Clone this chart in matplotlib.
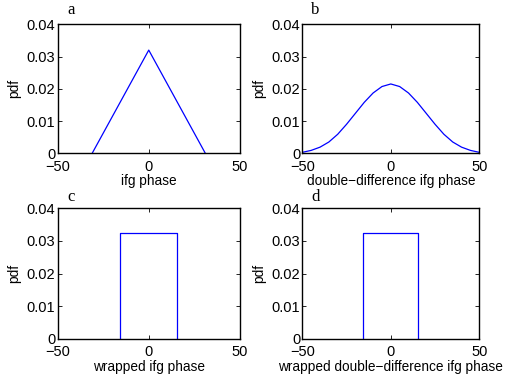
import matplotlib
matplotlib.use("Agg")
import matplotlib.pyplot as plt

# Triangular pdf of the interferogram phase
ifg_x = [-31, 0, 31]
ifg_pdf = [0.0, 0.032, 0.0]

# Pdf of the double-difference phase
dd_x = [-50, -45, -40, -35, -30, -25, -20, -15, -10, -5, 0,
        5, 10, 15, 20, 25, 30, 35, 40, 45, 50]
dd_pdf = [0.0003, 0.0009, 0.0019, 0.0035, 0.0059, 0.0090, 0.0124, 0.0158,
          0.0187, 0.0207, 0.0215, 0.0207, 0.0187, 0.0158, 0.0124, 0.0090,
          0.0059, 0.0035, 0.0019, 0.0009, 0.0003]

# Uniform pdfs of the wrapped phases
wrap_x = [-15.5, -15.5, 15.5, 15.5]
wrap_pdf = [0.0, 0.0323, 0.0323, 0.0]
wrapdd_x = [-15.5, -15.5, 15.5, 15.5]
wrapdd_pdf = [0.0, 0.0323, 0.0323, 0.0]

panel_letters = ["a", "b", "c", "d"]
x_labels = ["ifg phase", "double\u2212difference ifg phase",
            "wrapped ifg phase", "wrapped double\u2212difference ifg phase"]
x_ticks = [-50, 0, 50]
x_tick_labels = ["\u221250", "0", "50"]
y_ticks = [0, 0.01, 0.02, 0.03, 0.04]
y_tick_labels = ["0", "0.01", "0.02", "0.03", "0.04"]

plt.rcParams["font.family"] = ["Liberation Sans", "DejaVu Sans"]

W, H = 509, 379
fig = plt.figure(figsize=(W / 100, H / 100), dpi=100)


def px_axes(left, top, right, bottom):
    return fig.add_axes([left / W, 1 - bottom / H, (right - left) / W, (bottom - top) / H])


axes = [
    px_axes(57.5, 24.3, 240.0, 153.3),
    px_axes(302.3, 24.3, 479.3, 153.3),
    px_axes(57.5, 208.0, 240.0, 339.0),
    px_axes(302.3, 208.0, 479.3, 339.0),
]
series = [(ifg_x, ifg_pdf), (dd_x, dd_pdf), (wrap_x, wrap_pdf), (wrapdd_x, wrapdd_pdf)]
letter_y = [1.045, 1.045, 1.025, 1.025]

for ax, (xs, ys), letter, xl, ly in zip(axes, series, panel_letters, x_labels, letter_y):
    ax.plot(xs, ys, color=(0, 0, 1), lw=0.9, clip_on=True)
    ax.set_xlim(-50, 50)
    ax.set_ylim(0, 0.04)
    ax.set_xticks(x_ticks)
    ax.set_xticklabels(x_tick_labels)
    ax.set_yticks(y_ticks)
    ax.set_yticklabels(y_tick_labels)
    ax.tick_params(direction="in", top=True, right=True, length=3, width=0.6,
                   labelsize=10.5, colors="black")
    ax.tick_params(axis="x", pad=4.5)
    ax.tick_params(axis="y", pad=1.5)
    for s in ax.spines.values():
        s.set_linewidth(1.0)
    ax.set_xlabel(xl, fontsize=9.8, labelpad=0.5)
    ax.set_ylabel("pdf", fontsize=9.8, labelpad=4)
    ax.text(0.075, ly, letter, transform=ax.transAxes, fontsize=12,
            family=["Liberation Serif", "DejaVu Serif"], ha="center", va="bottom")

fig.savefig("out.png", dpi=100)
